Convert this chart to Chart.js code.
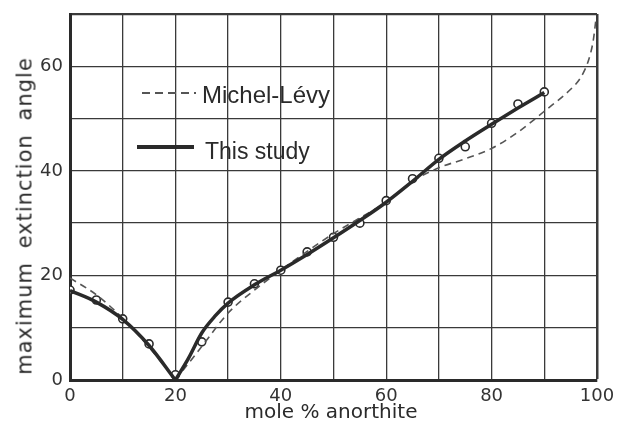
<!DOCTYPE html>
<html>
<head>
<meta charset="utf-8">
<script src="https://cdn.jsdelivr.net/npm/chart.js@4.4.1/dist/chart.umd.min.js"></script>
<style>
  html, body { margin: 0; padding: 0; background: #fff; }
  #wrap { position: relative; width: 617px; height: 429px; }
  #chart { position: absolute; left: 0; top: 0; }
  .txt { position: absolute; color: #2a2a2a; white-space: nowrap; line-height: 1; }
  .legText { font-family: "Liberation Sans", Arial, sans-serif; font-size: 23px; }
  .axTitle { font-family: "DejaVu Sans", sans-serif; }
  .swatch { position: absolute; }
</style>
</head>
<body>
<div id="wrap">
  <canvas id="chart" width="617" height="429"></canvas>
  <div class="swatch" style="left:142px; top:92px; width:54px; height:2px; background: repeating-linear-gradient(to right, #555 0 8px, transparent 8px 13px);"></div>
  <div class="txt legText" style="left:202px; top:83px; font-size:24px;">Michel-Lévy</div>
  <div class="swatch" style="left:137px; top:145px; width:57px; height:4px; background:#2a2a2a;"></div>
  <div class="txt legText" style="left:205px; top:140px;">This study</div>
  <div class="txt axTitle" style="left:331px; top:401px; font-size:20px; transform: translateX(-50%);">mole % anorthite</div>
  <div class="txt axTitle" style="left:25px; top:216px; font-size:21px; letter-spacing:1px; word-spacing:6px; transform: translate(-50%, -50%) rotate(-90deg);">maximum extinction angle</div>
</div>
<script>
// measured points (open circles)
const obsX = [0, 5, 10, 15, 20, 25, 30, 35, 40, 45, 50, 55, 60, 65, 70, 75, 80, 85, 90];
const obsY = [17.2, 15.3, 11.7, 6.9, 1.0, 7.3, 14.9, 18.4, 21.0, 24.5, 27.3, 30.0, 34.3, 38.5, 42.4, 44.6, 49.1, 52.8, 55.1];

// "This study" fitted curve, two branches meeting at An20
const studyLeftX = [0, 5, 10, 15, 20];
const studyLeftY = [17.1, 14.9, 11.6, 6.6, 0];
const studyRightX = [20, 22.5, 25, 27.5, 30, 35, 40, 45, 50, 55, 60, 65, 70, 75, 80, 85, 90];
const studyRightY = [0, 4.2, 9.0, 12.2, 14.7, 18.2, 21.0, 24.0, 27.2, 30.5, 34.0, 38.0, 42.2, 45.7, 48.9, 52.0, 55.0];

// Michel-Lévy curve
const mlLeftX = [0, 5, 10, 15, 20];
const mlLeftY = [19.5, 16.3, 11.8, 6.3, 0];
const mlRightX = [20, 22.5, 25, 30, 35, 40, 45, 50, 55, 60, 65, 70, 75, 80, 85, 90, 95, 97, 98.5, 99.3, 99.8];
const mlRightY = [0, 3.2, 6.4, 12.8, 17.2, 21.0, 24.6, 28.0, 31.0, 34.0, 38.0, 40.6, 42.3, 44.3, 47.4, 51.4, 55.6, 58.0, 61.5, 65.0, 69.0];

const xTicks = [0, 20, 40, 60, 80, 100];
const yTicks = [0, 20, 40, 60];

function pts(xs, ys) {
    return xs.map((x, i) => ({ x: x, y: ys[i] }));
}

const ink = '#2a2a2a';

function curve(label, xs, ys, dashed, order) {
    return {
        label: label,
        data: pts(xs, ys),
        showLine: true,
        borderColor: dashed ? '#555' : ink,
        borderWidth: dashed ? 1.6 : 3.5,
        borderDash: dashed ? [7, 5] : [],
        pointRadius: 0,
        cubicInterpolationMode: 'monotone',
        fill: false,
        order: order
    };
}

new Chart(document.getElementById('chart').getContext('2d'), {
    type: 'scatter',
    data: {
        datasets: [
            curve('This study', studyLeftX, studyLeftY, false, 1),
            curve('This study', studyRightX, studyRightY, false, 1),
            curve('Michel-Lévy', mlLeftX, mlLeftY, true, 2),
            curve('Michel-Lévy', mlRightX, mlRightY, true, 2),
            {
                label: 'observed',
                data: pts(obsX, obsY),
                showLine: false,
                pointRadius: 4,
                pointBorderWidth: 1.6,
                pointBorderColor: ink,
                pointBackgroundColor: '#fff',
                order: 3
            }
        ]
    },
    options: {
        responsive: false,
        animation: false,
        layout: { padding: { top: 14, right: 20, left: 0, bottom: 0 } },
        plugins: {
            legend: { display: false },
            tooltip: { enabled: false }
        },
        scales: {
            x: {
                type: 'linear',
                min: 0,
                max: 100,
                afterFit: s => { s.height = 49; s.paddingRight = 0; s.paddingLeft = 0; },
                ticks: {
                    stepSize: 10,
                    padding: 6,
                    color: '#333',
                    font: { family: 'DejaVu Sans', size: 18 },
                    callback: v => xTicks.includes(v) ? v : ''
                },
                grid: {
                    drawTicks: false,
                    color: '#3a3a3a',
                    lineWidth: c => c.tick && c.tick.value === 100 ? 2.5 : 1.3
                },
                border: { color: ink, width: 3 }
            },
            y: {
                min: 0,
                max: 70,
                afterFit: s => { s.width = 70; s.paddingTop = 0; s.paddingBottom = 0; },
                ticks: {
                    stepSize: 10,
                    padding: 7,
                    color: '#333',
                    font: { family: 'DejaVu Sans', size: 18 },
                    callback: v => yTicks.includes(v) ? v : ''
                },
                grid: {
                    drawTicks: false,
                    color: '#3a3a3a',
                    lineWidth: c => c.tick && c.tick.value === 70 ? 2.2 : 1.3
                },
                border: { color: ink, width: 3 }
            }
        }
    }
});
</script>
</body>
</html>
